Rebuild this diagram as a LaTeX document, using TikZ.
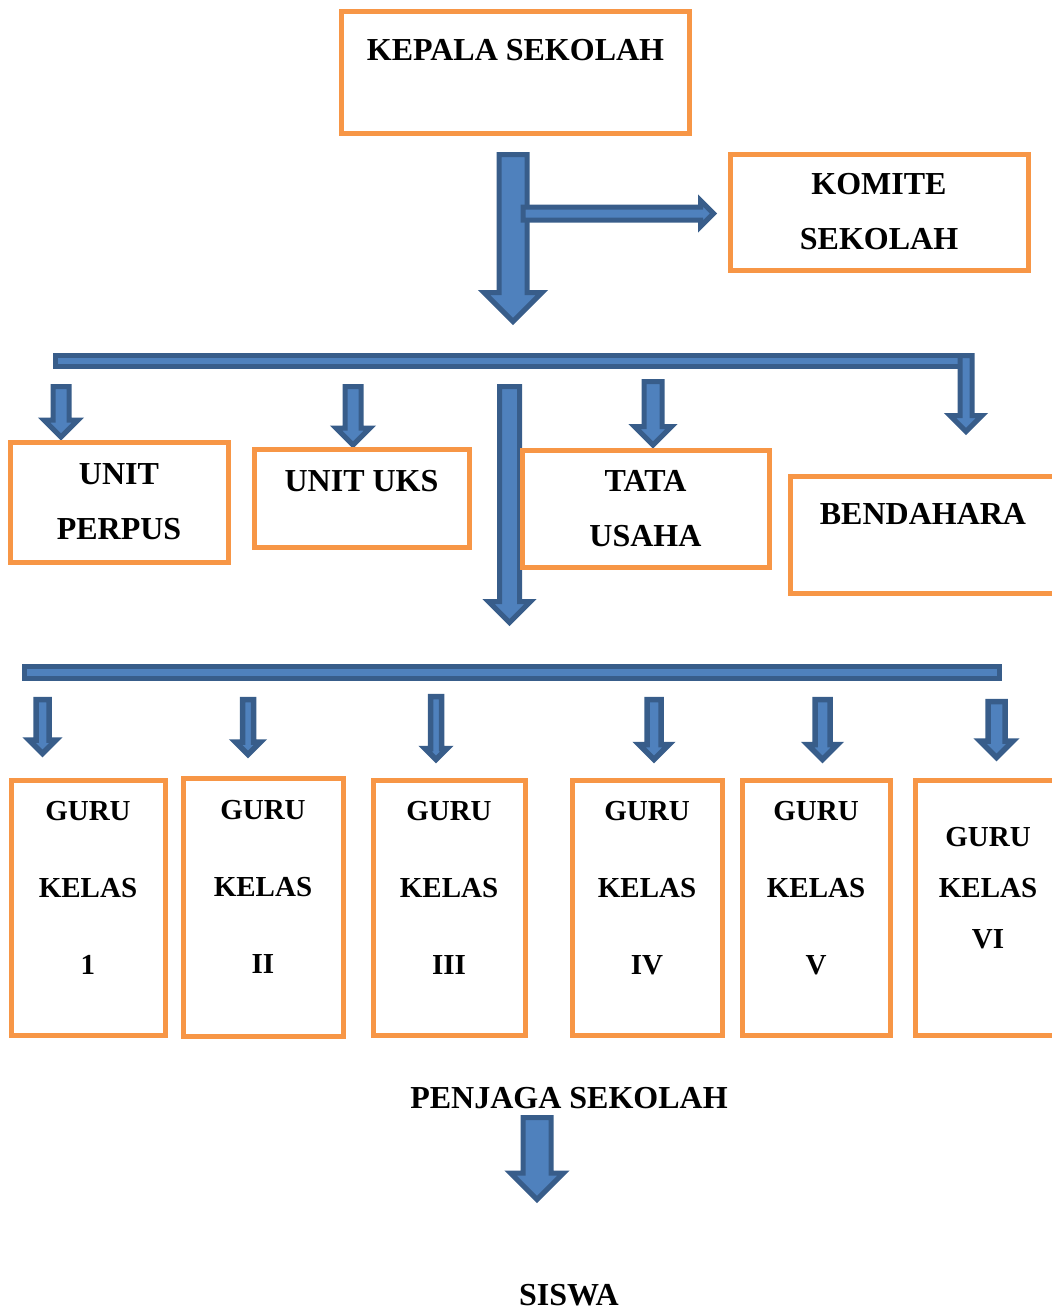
\documentclass[tikz,border=0pt]{standalone}
\usepackage{fontspec}
\setmainfont{Liberation Serif}
\usetikzlibrary{shapes.arrows}

\definecolor{boxorange}{HTML}{F79646}
\definecolor{arrowfill}{HTML}{4F81BD}
\definecolor{arrowline}{HTML}{385D8A}

\tikzset{
  box/.style={draw=boxorange,line width=2.5pt,align=center,inner sep=0pt,
    font=\bfseries\fontsize{16}{19}\selectfont},
  guru/.style={box,minimum height=127.5pt,text depth=20.5pt,
    font=\bfseries\fontsize{14.5}{19}\selectfont},
  plain/.style={align=center,inner sep=0pt,font=\bfseries\fontsize{16}{19}\selectfont},
  bar/.style={draw=arrowline,fill=arrowfill,line width=2.5pt,inner sep=0pt,outer sep=0pt},
  fat/.style={single arrow,draw=arrowline,fill=arrowfill,line width=2.5pt,
    inner sep=0pt,outer sep=0pt,single arrow head indent=0pt,
    single arrow tip angle=90,anchor=tip},
  fatdown/.style={fat,shape border rotate=270},
  slimdown/.style={fatdown,line width=2.75pt}
}

\begin{document}
\begin{tikzpicture}[x=0.5pt,y=-0.5pt]
  \useasboundingbox (0,0) rectangle (1052,1312);

  % top
  \node[box,minimum width=174pt,minimum height=61pt,text depth=22.5pt] (kepala) at (515.5,72.5) {KEPALA SEKOLAH};
  \node[box,minimum width=149pt,minimum height=58pt] (komite) at (879,212) {KOMITE\\[8.5pt]SEKOLAH};

  \node[fatdown,inner sep=5.75pt,single arrow head extend=7.5pt,minimum height=83.5pt] (akepala) at (513,321.5) {};
  \node[fat,inner sep=2pt,single arrow head extend=3.25pt,minimum height=95.25pt] (akomite) at (713.5,213.5) {};

  % staff
  \node[bar,minimum width=455.75pt,minimum height=5.75pt] (bar1) at (511.25,361) {};

  \node[fatdown,inner sep=2.75pt,single arrow head extend=4.5pt,minimum height=25.25pt] (aperpus) at (61,437) {};
  \node[fatdown,inner sep=2.75pt,single arrow head extend=4.5pt,minimum height=29.25pt] (auks) at (353,445) {};
  \node[fatdown,inner sep=3.25pt,single arrow head extend=4.75pt,minimum height=31.75pt] (atata) at (653,445) {};
  \node[fatdown,inner sep=1.75pt,single arrow head extend=5pt,minimum height=38pt] (abend) at (966,431.5) {};
  \node[fatdown,inner sep=3.75pt,single arrow head extend=5.5pt,minimum height=118pt] (aguru) at (509.5,622.5) {};

  \node[box,minimum width=109pt,minimum height=60pt] (perpus) at (119,502) {UNIT\\[8.5pt]PERPUS};
  \node[box,minimum width=107.5pt,minimum height=49pt,text depth=17pt] (uks) at (361.5,498) {UNIT UKS};
  \node[box,minimum width=123.5pt,minimum height=58.5pt] (tata) at (645.5,508.5) {TATA\\[8.5pt]USAHA};
  \node[box,minimum width=133pt,minimum height=58.5pt,text depth=20.5pt] (bendahara) at (923,534.5) {BENDAHARA};

  % guru kelas
  \node[bar,minimum width=487.5pt,minimum height=6pt] (bar2) at (512,672.5) {};

  \node[slimdown,inner sep=1.875pt,single arrow head extend=3.5pt,minimum height=27pt] (ag1) at (42.5,753.5) {};
  \node[slimdown,inner sep=1.375pt,single arrow head extend=3.5pt,minimum height=27.5pt] (ag2) at (248,754.5) {};
  \node[slimdown,inner sep=1.375pt,single arrow head extend=2.75pt,minimum height=31.5pt] (ag3) at (436,759.5) {};
  \node[slimdown,inner sep=2.125pt,single arrow head extend=4pt,minimum height=30pt] (ag4) at (654,759.5) {};
  \node[slimdown,inner sep=2.375pt,single arrow head extend=3.75pt,minimum height=30pt] (ag5) at (822.5,759.5) {};
  \node[slimdown,inner sep=2.875pt,single arrow head extend=4pt,minimum height=28pt] (ag6) at (996.5,757.5) {};

  \node[guru,minimum width=77pt] (g1) at (88,908) {GURU\\[19.5pt]KELAS\\[19.5pt]1};
  \node[guru,minimum width=80pt,minimum height=129pt] (g2) at (263,907) {GURU\\[19.5pt]KELAS\\[19.5pt]II};
  \node[guru,minimum width=76pt] (g3) at (449,908) {GURU\\[19.5pt]KELAS\\[19.5pt]III};
  \node[guru,minimum width=75pt] (g4) at (647,908) {GURU\\[19.5pt]KELAS\\[19.5pt]IV};
  \node[guru,minimum width=74pt] (g5) at (816,908) {GURU\\[19.5pt]KELAS\\[19.5pt]V};
  \node[guru,minimum width=73pt] (g6) at (988,908) {GURU\\[6.5pt]KELAS\\[6.5pt]VI};

  % bawah
  \node[plain] (penjaga) at (569,1098) {PENJAGA SEKOLAH};
  \node[fatdown,inner sep=5.75pt,single arrow head extend=6.25pt,minimum height=41pt] (asiswa) at (537,1199.5) {};
  \node[plain,anchor=base] (siswa) at (569,1305) {SISWA};

\end{tikzpicture}
\end{document}
